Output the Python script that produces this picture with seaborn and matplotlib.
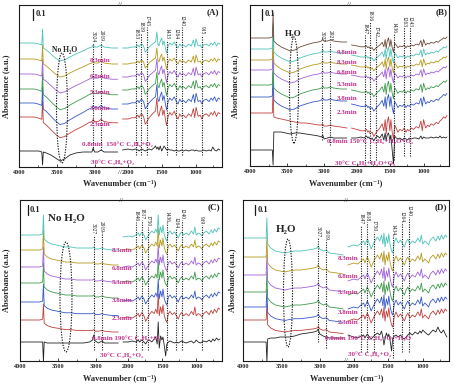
import numpy as np
import pandas as pd
import matplotlib
matplotlib.use('Agg')
import matplotlib.pyplot as plt
import seaborn as sns
from matplotlib.patches import Ellipse
from matplotlib.lines import Line2D
from matplotlib.ticker import FixedLocator, FuncFormatter
from matplotlib.transforms import offset_copy

sns.set_theme(style='white')
plt.rcParams['font.family'] = ['Liberation Serif', 'DejaVu Serif']

# ---------------- data (absorbance in units of 0.01 a.u.) ----------------
L_WN = [4000, 3900, 3800, 3740, 3700, 3690, 3680, 3640, 3580, 3520, 3460, 3400,
        3330, 3250, 3160, 3080, 3040, 3024, 3005, 2960, 2919, 2880, 2780, 2700]
R_WN = [2080, 2000, 1940, 1890, 1853, 1835, 1819, 1800, 1770, 1745, 1720, 1690,
        1655, 1620, 1595, 1575, 1560, 1545, 1525, 1505, 1490, 1470, 1450, 1433,
        1410, 1385, 1355, 1320, 1290, 1264, 1240, 1215, 1185, 1150, 1110, 1070,
        1040, 1020, 1000, 970, 940, 915, 890, 850, 810, 780, 755, 730, 700, 675, 650]

# Panel A
A_L_COL = [0, 0, 0, -1, -2, 14, -5, -7, -11, -15, -18, -17, -14, -11, -8, -5, -4, -2, -4, -4, -2, -4, -5, -5]
A_L_BLK = [0, 0, 0, 0, -1, -14, -1, -2, -4, -7, -10, -8, -4, -2, -1, -1, -1, 3, -1, -1, 1, -1, -1, -1]
A_R_COL = [0, 0, 1, 1, 3, 1, 3, 4, 2, -4, -2, 1, 3, 5, 6, 16, 4, 2, 7, 10, 3, 7, 0, -5, 2,
           5, 3, 6, 2, 0, 4, 2, 3, 1, 4, 2, 8, 1, 9, 2, 3, 0, 3, 4, 2, 5, 3, 6, 2, 5, 4]
A_R_BLK = [0, 1, 0, 1, 0, -1, 0, 1, 0, -1, 0, 1, 0, 2, 4, 1, 3, 0, 4, -1, 1, 4, 2, 0, 1,
           0, 0, -1, 0, -1, -1, 0, -1, 0, -1, 0, 0, -1, 0, -1, -1, -1, 0, -1, 0, -1, 3, 0, -1, 1, 0]
A_CURVES = ['30°C', '0.8min', '2.3min', '3.8min', '5.3min', '6.8min', '8.3min']
A_L_BASE = [16, 50, 64, 78, 93, 108, 124]
A_L_AMP = [1.0, 1.15, 1.2, 1.15, 1.05, 1.0, 1.0]
A_R_BASE = [17, 48, 63, 77, 90, 103, 119]
A_R_AMP = [1.0, 1.3, 1.2, 1.1, 1.1, 1.0, 1.0]
A_PEAKS = [3024, 2919, 1853, 1819, 1745, 1433, 1264, 1240, 915]

# Panel B
B_L_COL = [0, 0, 0, 0, 1, 25, -3, -6, -9, -11, -13, -12, -9, -7, -5, -4, -3, -1, -3, -3, -2, -3, -4, -4]
B_L_RED = [0, 0, 0, 0, 0, 25, -4, -5, -6, -7, -8, -9, -10, -10, -11, -12, -12, -11, -13, -13, -12, -13, -14, -15]
B_L_BLK = [0, 0, 0, 0, 0, -15, 18, 18, 18, 17, 16, 17, 17, 16, 15, 14, 13, 15, 11, 12, 13, 12, 12, 12]
B_R_COL = [0, -1, -2, -2, -1, -3, -2, -4, -3, -6, -4, -2, 0, 3, -2, 6, -4, 4, 8, -2, 6, -3, -8, 2, 0,
           -3, -1, -2, 0, -3, -1, -2, 0, -1, 1, 0, 5, -2, 6, 0, 2, 1, 3, 2, 4, 3, 5, 6, 8, 7, 9]
B_R_BLK = [0, 0, 1, 0, 2, 0, 1, -1, 0, -3, 0, 2, 0, 4, -2, 5, -3, 3, 5, -2, 3, -12, -26, 2, 0,
           -1, 0, -2, 0, -1, -2, 0, -1, 0, 0, -1, 2, -1, 1, 0, 0, 0, 1, 0, 1, 0, 2, 0, 1, 0, 1]
B_CURVES = ['30°C', '0.8min', '2.3min', '3.8min', '5.3min', '6.8min', '8.3min', '9.8min']
B_L_BASE = [16, 53, 69, 81, 96, 106, 117, 128]
B_L_AMP = [1, 1, 1, 1, 1, 1, 1, 1]
B_R_BASE = [28, 38, 62, 76, 91, 101, 111, 121]
B_R_AMP = [1.0, 1.4, 1.2, 1.1, 1.0, 1.0, 1.0, 0.9]
B_PEAKS = [3027, 2921, 1847, 1816, 1742, 1436, 1263, 1243]

# Panel C
C_L_COL = [0, 0, 0, 0, 1, 20, -4, -7, -9, -10, -11, -12, -12, -13, -13, -13, -13, -12, -14, -14, -13, -14, -15, -15]
C_L_BLK = [0, 0, 0, 0, 0, -20, 0, -1, -1, -1, -1, -1, -1, -1, -1, 0, 2, 7, 1, -1, 1, -1, -1, -1]
C_R_COL = [0, 1, 0, 2, 4, 1, 3, 5, 2, -3, 0, 3, 6, 4, 8, 4, 22, 2, 10, 4, 12, 2, -2, -4, 4,
           6, 3, 5, 2, -1, 3, 5, 2, 4, 2, 6, 3, 10, 2, 4, 3, 1, 4, 6, 3, 7, 4, 8, 5, 9, 8]
C_R_BLK = [0, 0, 1, 0, 2, 0, 1, 2, 0, -2, 1, 2, 0, 3, 5, -2, 20, -6, 6, 2, 5, -4, -14, -2, 0,
           1, 0, -1, 0, -1, 0, 1, 0, -1, 0, 1, -1, 0, 2, 0, -1, 0, 1, 0, 2, 0, 3, 1, 4, 2, 3]
C_CURVES = ['30°C', '0.8min', '2.3min', '3.8min', '5.3min', '6.8min', '8.3min']
C_L_BASE = [19, 41, 59, 78, 94, 111, 126]
C_L_AMP = [1, 0.8, 0.9, 1, 1, 1, 1]
C_R_BASE = [19, 43, 60, 79, 94, 111, 124]
C_R_AMP = [1, 1.1, 1, 1, 1, 1, 1]
C_PEAKS = [3027, 2919, 1846, 1817, 1750, 1436, 1264, 1240, 919]

# Panel D
D_L_COL = [0, 0, 0, 0, 0, 20, -6, -10, -13, -14, -15, -14, -13, -13, -12, -11, -10, -8, -11, -13, -12, -15, -16, -17]
D_L_BLK = [0, 0, 0, 0, 0, -20, 3, 4, 4, 5, 5, 5, 6, 8, 9, 10, 11, 13, 8, 6, 5, 4, 4, 4]
D_R_COL = [0, 2, 1, 4, 6, 2, 5, 8, 3, -2, 2, 6, 10, 6, 12, 3, 14, 0, 10, 4, 13, 2, -4, -6, 5,
           9, 4, 7, 3, 0, 5, 8, 3, 6, 4, 9, 5, 12, 3, 6, 4, 2, 7, 10, 6, 11, 7, 12, 8, 12, 10]
D_R_BLK = [0, -2, -3, -1, 0, -3, -1, 1, -2, -4, -2, 0, 2, 0, 4, -3, -10, -4, 2, -2, 1, -6, -16, -3, -1,
           0, -2, 0, -3, -4, -2, 0, 2, 0, 3, 1, 4, 2, 5, 3, 1, 0, 2, 5, 3, 8, 4, 2, 5, 1, -2]
D_CURVES = ['30°C', '0.8min', '2.3min', '3.8min', '5.3min', '6.8min', '8.3min']
D_L_BASE = [19, 41, 54, 69, 86, 104, 123]
D_L_AMP = [1, 0.8, 0.9, 1, 1, 1, 1]
D_R_BASE = [26, 40, 52, 66, 80, 96, 114]
D_R_AMP = [1, 1, 1, 1, 1, 1, 1]
D_PEAKS = [3027, 2919, 1847, 1818, 1750, 1434, 1264, 1240]

MAJOR_TICKS = [4000, 3500, 3000, 2000, 1500, 1000]
MINOR_TICKS = [3750, 3250, 1750, 1250, 750]

COLORS = ['#222222', '#c0403c', '#3558c8', '#3f9a4c', '#a062d8', '#b49a1e', '#4cc4b8', '#6e4a3c']
MAG = '#c4308c'

# ---------------- layout helpers ----------------
W, H = 454, 391
fig = plt.figure(figsize=(W / 100, H / 100), dpi=100)

def T(x, y, s, **kw):
    return fig.text(x / W, 1 - y / H, s, **kw)

def vbar(x, y1, y2):
    fig.add_artist(Line2D([x / W, x / W], [1 - y1 / H, 1 - y2 / H],
                          transform=fig.transFigure, color='k', lw=0.9))

def ell(cx, cy, w, h):
    fig.add_artist(Ellipse((cx / W, 1 - cy / H), w / W, h / H, transform=fig.transFigure,
                           fill=False, ls=(0, (1.2, 1.2)), lw=0.8, ec='k'))

# broken wavenumber axis (piecewise-linear scale)
BW = [0, 620, 2080, 2700, 4000, 10000]
BU = [-245.4, -203.1, -103.5, -98.8, 0, 456]
def fwd(w):
    return np.interp(w, BW, BU)
def inv(u):
    return np.interp(u, BU, BW)

def make_ax(l, t, r, b):
    return fig.add_axes([l / W, 1 - b / H, (r - l) / W, (b - t) / H])

def panel(ax, hgt, curves, lprofs, la, lb, rprofs, ra, rb, colors, peaks, ptop, pbot, pdx):
    rows = []
    for i, name in enumerate(curves):
        for w, v in zip(L_WN, lprofs[i]):
            rows.append((name, 'L', w, lb[i] + la[i] * v))
        for w, v in zip(R_WN, rprofs[i]):
            rows.append((name, 'R', w, rb[i] + ra[i] * v))
    df = pd.DataFrame(rows, columns=['curve', 'seg', 'wn', 'absorb'])
    sns.lineplot(data=df, x='wn', y='absorb', hue='curve', hue_order=curves,
                 palette=colors, units='seg', estimator=None, sort=False,
                 lw=0.6, legend=False, ax=ax)
    ax.set_xscale('function', functions=(fwd, inv))
    ax.set_xlim(4000, 620)
    ax.set_ylim(0, hgt)
    for w, t_, b_, dx in zip(peaks, ptop, pbot, pdx):
        tr = offset_copy(ax.transData, fig=fig, x=dx * 0.72, y=0, units='points')
        ax.plot([w, w], [b_, t_], color='k', lw=0.8, ls=(0, (1, 1.2)), transform=tr)
        ax.text(w, t_ + 0.5, str(w), rotation=270, ha='center', va='bottom',
                fontsize=4, color='k', transform=tr)
    ax.set_xlabel('')
    ax.set_ylabel('')
    ax.set_yticks([])
    ax.xaxis.set_major_locator(FixedLocator(MAJOR_TICKS))
    ax.xaxis.set_minor_locator(FixedLocator(MINOR_TICKS))
    ax.xaxis.set_major_formatter(FuncFormatter(lambda v, p: f'{int(round(v))}'))
    ax.tick_params(axis='x', which='major', direction='in', length=2.5, width=0.6,
                   labelsize=4.5, pad=2, bottom=True, top=False)
    ax.tick_params(axis='x', which='minor', direction='in', length=1.5, width=0.5,
                   bottom=True, top=False)
    for lab in ax.get_xticklabels():
        lab.set_fontweight('bold')
    for s in ax.spines.values():
        s.set_color('k')
        s.set_linewidth(0.8)
    ax.text(2390, hgt, '//', ha='center', va='center', fontsize=5, clip_on=False)

tb = dict(fontsize=5, color=MAG, fontweight='bold', va='center')

# ---------------- Panel A ----------------
axA = make_ax(19, 5, 222, 167)
panel(axA, 162, A_CURVES,
      [A_L_BLK] + [A_L_COL] * 6, A_L_AMP, A_L_BASE,
      [A_R_BLK] + [A_R_COL] * 6, A_R_AMP, A_R_BASE,
      COLORS[:7], A_PEAKS,
      [124, 125, 127, 134, 140, 127, 127, 140, 132],
      [17, 17, 12, 12, 12, 12, 12, 12, 12],
      [0, 0, -2, 1, 2, 0, -2, 2, 0])
axA.text(2390, -5, '//', ha='center', va='center', fontsize=5, clip_on=False)
for s, y in zip(['8.3min', '6.8min', '5.3min', '3.8min', '2.3min'], [61, 77, 93, 108, 125]):
    T(100, y, s, ha='center', **tb)
T(82, 144, '0.8min  150°C C₃H₆+O₂', ha='left', **tb)
T(113, 162, '30°C C₃H₆+O₂', ha='center', **tb)
T(65, 50, 'No H₂O', ha='center', va='center', fontsize=5.5, fontweight='bold')
ell(62, 108, 11, 110)
T(213, 12, '(A)', ha='center', va='center', fontsize=6.5, fontweight='bold')
vbar(33, 9, 20)
T(36, 14, '0.1', ha='left', va='center', fontsize=6, fontweight='bold')
T(6, 86, 'Absorbance (a.u.)', rotation=90, ha='center', va='center', fontsize=6, fontweight='bold')
T(120, 183, 'Wavenumber (cm⁻¹)', ha='center', va='center', fontsize=6, fontweight='bold')

# ---------------- Panel B ----------------
axB = make_ax(250, 5, 449, 166)
panel(axB, 161, B_CURVES,
      [B_L_BLK, B_L_RED] + [B_L_COL] * 6, B_L_AMP, B_L_BASE,
      [B_R_BLK] + [B_R_COL] * 7, B_R_AMP, B_R_BASE,
      COLORS[:8], B_PEAKS,
      [123, 124, 131, 144, 129, 133, 139, 139],
      [26, 21, 3, 3, 6, 6, 10, 10],
      [0, 0, -2, 1, 2, 0, -2.5, 2.5])
for s, y in zip(['9.8min', '8.3min', '6.8min', '5.3min', '3.8min', '2.3min'], [53, 63, 73, 85, 98, 113]):
    T(347, y, s, ha='center', **tb)
T(327, 141, '0.8min 150°C C₃H₆+H₂O+O₂', ha='left', **tb)
T(365, 163, '30°C C₃H₆+H₂O+O₂', ha='center', **tb)
T(293, 34, 'H₂O', ha='center', va='center', fontsize=6.5, fontweight='bold')
ell(294, 90, 9, 106)
T(442, 12, '(B)', ha='center', va='center', fontsize=6.5, fontweight='bold')
vbar(262, 9, 20)
T(265, 14, '0.1', ha='left', va='center', fontsize=6, fontweight='bold')
T(235, 86, 'Absorbance (a.u.)', rotation=90, ha='center', va='center', fontsize=6, fontweight='bold')
T(346, 183, 'Wavenumber (cm⁻¹)', ha='center', va='center', fontsize=6, fontweight='bold')

# ---------------- Panel C ----------------
axC = make_ax(20, 200, 222, 361)
panel(axC, 161, C_CURVES,
      [C_L_BLK] + [C_L_COL] * 6, C_L_AMP, C_L_BASE,
      [C_R_BLK] + [C_R_COL] * 6, C_R_AMP, C_R_BASE,
      COLORS[:7], C_PEAKS,
      [126, 129, 139, 141, 134, 139, 133, 141, 136],
      [11, 11, 11, 11, 11, 11, 11, 11, 11],
      [0, 0, -3, 1, 3, 0, -2.5, 2.5, 0])
for s, y in zip(['8.3min', '6.8min', '5.3min', '3.8min', '2.3min'], [250, 268, 283, 301, 318]):
    T(122, y, s, ha='center', **tb)
T(92, 338, '0.8min 190°C C₃H₆+O₂', ha='left', **tb)
T(122, 355, '30°C C₃H₆+O₂', ha='center', **tb)
T(66, 218, 'No H₂O', ha='center', va='center', fontsize=8, fontweight='bold')
ell(66, 297, 12, 110)
T(214, 207, '(C)', ha='center', va='center', fontsize=6.5, fontweight='bold')
vbar(28, 205, 215)
T(30, 210, '0.1', ha='left', va='center', fontsize=6, fontweight='bold')
T(6, 280, 'Absorbance (a.u.)', rotation=90, ha='center', va='center', fontsize=6, fontweight='bold')
T(120, 378, 'Wavenumber (cm⁻¹)', ha='center', va='center', fontsize=6, fontweight='bold')

# ---------------- Panel D ----------------
axD = make_ax(243, 200, 449, 361)
panel(axD, 161, D_CURVES,
      [D_L_BLK] + [D_L_COL] * 6, D_L_AMP, D_L_BASE,
      [D_R_BLK] + [D_R_COL] * 6, D_R_AMP, D_R_BASE,
      COLORS[:7], D_PEAKS,
      [123, 121, 136, 139, 129, 126, 139, 144],
      [19, 13, 9, 9, 9, 3, 9, 9],
      [0, 0, -3, 1, 3, 0, -2.5, 2.5])
axD.text(2390, 0, '//', ha='center', va='center', fontsize=5, clip_on=False)
for s, y in zip(['8.3min', '6.8min', '5.3min', '3.8min', '2.3min'], [258, 276, 293, 312, 323]):
    T(348, y, s, ha='center', **tb)
T(325, 338, '0.8min 190°C C₃H₆+O₂+H₂O', ha='left', **tb)
T(370, 354, '30°C C₃H₆+O₂', ha='center', **tb)
T(286, 229, 'H₂O', ha='center', va='center', fontsize=8, fontweight='bold')
ell(288, 293, 9, 108)
T(441, 207, '(D)', ha='center', va='center', fontsize=6.5, fontweight='bold')
vbar(255, 205, 215)
T(258, 210, '0.1', ha='left', va='center', fontsize=6, fontweight='bold')
T(232, 280, 'Absorbance (a.u.)', rotation=90, ha='center', va='center', fontsize=6, fontweight='bold')
T(347, 378, 'Wavenumber (cm⁻¹)', ha='center', va='center', fontsize=6, fontweight='bold')

fig.savefig('out.png', dpi=100)
